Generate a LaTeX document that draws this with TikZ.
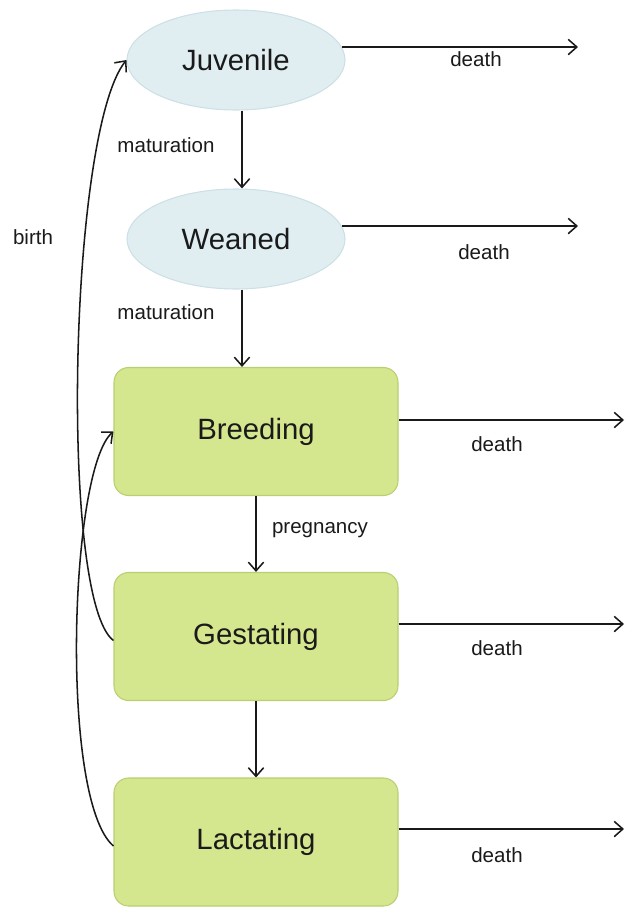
\documentclass[tikz,border=0pt]{standalone}
\usepackage{fontspec}
\setsansfont{Liberation Sans}
\usetikzlibrary{arrows.meta, shapes.geometric, calc}

\begin{document}
\begin{tikzpicture}[
    every node/.style={font=\sffamily},
    % sketch coordinates: x to the right, y downwards, 1 unit = 1 px
    x=0.75pt, y=-0.75pt,
]

% ---------------------------------------------------------------- colours
\definecolor{youngfill}{HTML}{E0EEF2}
\definecolor{youngline}{HTML}{CCE0E6}
\definecolor{adultfill}{HTML}{D4E68E}
\definecolor{adultline}{HTML}{B9CF70}
\definecolor{inkcolor}{HTML}{1A1A1A}

\tikzset{
    young/.style={ellipse, fill=youngfill, draw=youngline, line width=0.8pt,
                  minimum width=163.5pt, minimum height=75pt, inner sep=0pt,
                  font=\sffamily\fontsize{22}{26}\selectfont, text=inkcolor},
    adult/.style={rectangle, rounded corners=11pt, fill=adultfill,
                  draw=adultline, line width=0.8pt, minimum width=213pt,
                  minimum height=96pt, inner sep=0pt,
                  font=\sffamily\fontsize{22}{26}\selectfont, text=inkcolor},
    flow/.style={-{Straight Barb[length=6.5pt, width=11.5pt]}, line width=1.15pt,
                 inkcolor},
    tag/.style={font=\sffamily\fontsize{15.4}{18}\selectfont, text=inkcolor},
}

\useasboundingbox (0, 0) rectangle (626, 907);

% ---------------------------------------------------------------- stages
\node[young] (juv) at (236, 60) {Juvenile};
\node[young] (wean) at (236, 239) {Weaned};
\node[adult] (breed) at (256, 431.5) {Breeding};
\node[adult] (gest) at (256, 636.5) {Gestating};
\node[adult] (lact) at (256, 842) {Lactating};

% ---------------------------------------------------------------- growing up
\coordinate (mat1top) at ([xshift=4.5pt]juv.south);
\coordinate (mat2top) at ([xshift=4.5pt]wean.south);
\draw[flow] (mat1top) -- (mat1top |- wean.north);
\draw[flow] (mat2top) -- (mat2top |- breed.north);
\node[tag] (mat1) at (166, 145) {maturation};
\node[tag] (mat2) at (166, 312) {maturation};

\draw[flow] (breed.south) -- (gest.north);
\node[tag] (preg) at (320, 530) {pregnancy};
\draw[flow] (gest.south) -- (lact.north);

% ---------------------------------------------------------------- back loops
\draw[flow] ([yshift=-3pt]gest.west)
    .. controls ($(gest.west)+(-54,-36)$) and ($(juv.west)+(-58,72)$) .. (juv.west);
\node[tag] (birthtag) at (33, 237) {birth};
\draw[flow] ([yshift=-3pt]lact.west)
    .. controls ($(lact.west)+(-54,-42)$) and ($(breed.west)+(-44,38)$) .. (breed.west);

% ---------------------------------------------------------------- death
\coordinate (juv-dead) at (578, 47);
\coordinate (wean-dead) at (578, 227);
\coordinate (breed-dead) at (624, 420);
\coordinate (gest-dead) at (624, 624);
\coordinate (lact-dead) at (624, 829);

\draw[flow] (juv.7) -- (juv.7 -| juv-dead);
\draw[flow] (wean.7) -- (wean.7 -| wean-dead);
\foreach \stage in {breed, gest, lact}
    \draw[flow] (\stage.east |- \stage-dead) -- (\stage-dead);

\foreach \stage/\lx/\ly in {juv/476/59, wean/484/252, breed/497/444,
                            gest/497/648, lact/497/855}
    \node[tag] (\stage-tag) at (\lx, \ly) {death};

\end{tikzpicture}
\end{document}
